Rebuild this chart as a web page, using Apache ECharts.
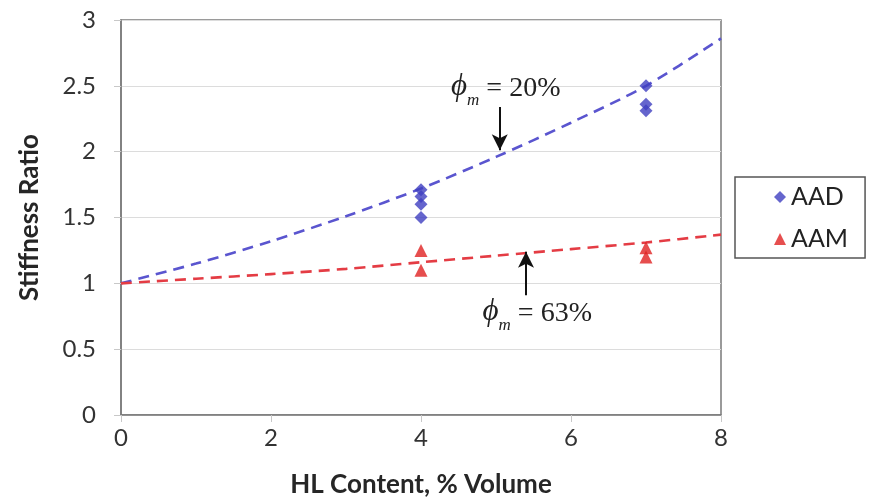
<!DOCTYPE html>
<html>
<head>
<meta charset="utf-8">
<script src="https://cdn.jsdelivr.net/npm/echarts@6/dist/echarts.min.js"></script>
<style>
  html, body { margin: 0; padding: 0; background: #fff; }
  #chart { width: 870px; height: 503px; }
</style>
</head>
<body>
<div id="chart"></div>
<script>
// HL content (% volume) at which the fitted curves are sampled
const hlContent = [0, 1, 2, 3, 4, 5, 6, 7, 8];
// Fitted stiffness ratio, phi_m = 20% (AAD) and phi_m = 63% (AAM)
const fitAAD = [1.0, 1.15, 1.32, 1.51, 1.72, 1.96, 2.22, 2.5, 2.86];
const fitAAM = [1.0, 1.035, 1.07, 1.11, 1.16, 1.21, 1.26, 1.31, 1.37];
// Measured stiffness ratios
const aadX = [4, 4, 4, 4, 7, 7, 7];
const aadY = [1.71, 1.66, 1.6, 1.5, 2.5, 2.36, 2.31];
const aamX = [4, 4, 7, 7];
const aamY = [1.25, 1.1, 1.27, 1.2];
// Annotation labels and the points their arrows run between (data units)
const noteLabels = ['20%', '63%'];
const noteTextAt = [[5.13, 2.49], [5.55, 0.78]];
const noteArrowFrom = [[5.05, 2.34], [5.4, 0.91]];
const noteArrowTo = [[5.05, 2.01], [5.4, 1.24]];

const pairs = (xs, ys) => xs.map((x, i) => [x, ys[i]]);

const chart = echarts.init(document.getElementById('chart'));
const labelFont = 'Lato, "Open Sans", sans-serif';

chart.setOption({
  animation: false,
  backgroundColor: '#fff',
  grid: {
    left: 121, right: 149, top: 20, bottom: 88,
    show: true, borderColor: '#7a7a7a', borderWidth: 1.5, backgroundColor: 'transparent'
  },
  xAxis: {
    type: 'value', min: 0, max: 8, interval: 2,
    name: 'HL Content, % Volume', nameLocation: 'middle', nameGap: 57,
    nameTextStyle: { fontFamily: labelFont, fontWeight: 'bold', fontSize: 26, color: '#262626' },
    axisLine: { show: true, onZero: false, lineStyle: { color: '#7a7a7a', width: 1.5 } },
    axisTick: { show: true, length: 7, lineStyle: { color: '#c8c8c8' } },
    axisLabel: { fontFamily: labelFont, fontSize: 24, color: '#333', margin: 11 },
    splitLine: { show: false }
  },
  yAxis: {
    type: 'value', min: 0, max: 3, interval: 0.5,
    name: 'Stiffness Ratio', nameLocation: 'middle', nameGap: 78,
    nameTextStyle: { fontFamily: labelFont, fontWeight: 'bold', fontSize: 26, color: '#262626' },
    axisLine: { show: true, lineStyle: { color: '#7a7a7a', width: 1.5 } },
    axisTick: { show: true, length: 7, lineStyle: { color: '#c8c8c8' } },
    axisLabel: { fontFamily: labelFont, fontSize: 24, color: '#333', margin: 25 },
    splitLine: { show: true, lineStyle: { color: '#dcdcdc', width: 1 } }
  },
  legend: {
    data: ['AAD', 'AAM'],
    orient: 'vertical', left: 735, top: 177,
    padding: [7, 17, 6, 39],
    itemGap: 16, itemWidth: 12, itemHeight: 12,
    borderColor: '#555', borderWidth: 1.5, borderRadius: 0,
    textStyle: { fontFamily: labelFont, fontSize: 25, lineHeight: 26, color: '#222' }
  },
  series: [
    {
      name: 'fitAAD', type: 'line', data: pairs(hlContent, fitAAD), smooth: 0.3,
      showSymbol: false, silent: true, z: 2,
      lineStyle: { color: '#5a55cf', width: 2.6, type: [11, 7] },
      markLine: {
        silent: true, symbol: ['none', 'arrow'], symbolSize: [12, 16],
        lineStyle: { color: '#111', width: 2, type: 'solid' },
        label: { show: false },
        data: [[{ coord: noteArrowFrom[0] }, { coord: noteArrowTo[0] }]]
      }
    },
    {
      name: 'fitAAM', type: 'line', data: pairs(hlContent, fitAAM), smooth: 0.3,
      showSymbol: false, silent: true, z: 2,
      lineStyle: { color: '#e43c44', width: 2.6, type: [11, 7] },
      markLine: {
        silent: true, symbol: ['none', 'arrow'], symbolSize: [12, 16],
        lineStyle: { color: '#111', width: 2, type: 'solid' },
        label: { show: false },
        data: [[{ coord: noteArrowFrom[1] }, { coord: noteArrowTo[1] }]]
      }
    },
    {
      name: 'AAD', type: 'scatter', data: pairs(aadX, aadY),
      symbol: 'diamond', symbolSize: 13, z: 3,
      itemStyle: { color: '#3f3fc0' }
    },
    {
      name: 'AAM', type: 'scatter', data: pairs(aamX, aamY),
      symbol: 'triangle', symbolSize: 13, z: 3,
      itemStyle: { color: '#e02222' }
    }
  ]
});

// phi_m annotation text, placed from data coordinates
const serif = '"Liberation Serif", "DejaVu Serif", serif';
chart.setOption({
  graphic: noteLabels.map((label, i) => {
    const p = chart.convertToPixel({ gridIndex: 0 }, noteTextAt[i]);
    return {
      type: 'text', x: p[0], y: p[1], z: 10,
      style: {
        text: '{phi|\u03D5}{sub|m}{eq| = ' + label + '}',
        align: 'center', verticalAlign: 'middle',
        rich: {
          phi: { fontFamily: serif, fontStyle: 'italic', fontSize: 31, fill: '#222', verticalAlign: 'bottom' },
          sub: { fontFamily: serif, fontStyle: 'italic', fontSize: 17, fill: '#222', verticalAlign: 'bottom', padding: [0, 0, -6, 0] },
          eq: { fontFamily: serif, fontSize: 28, fill: '#222', verticalAlign: 'bottom' }
        }
      }
    };
  })
});
</script>
</body>
</html>
